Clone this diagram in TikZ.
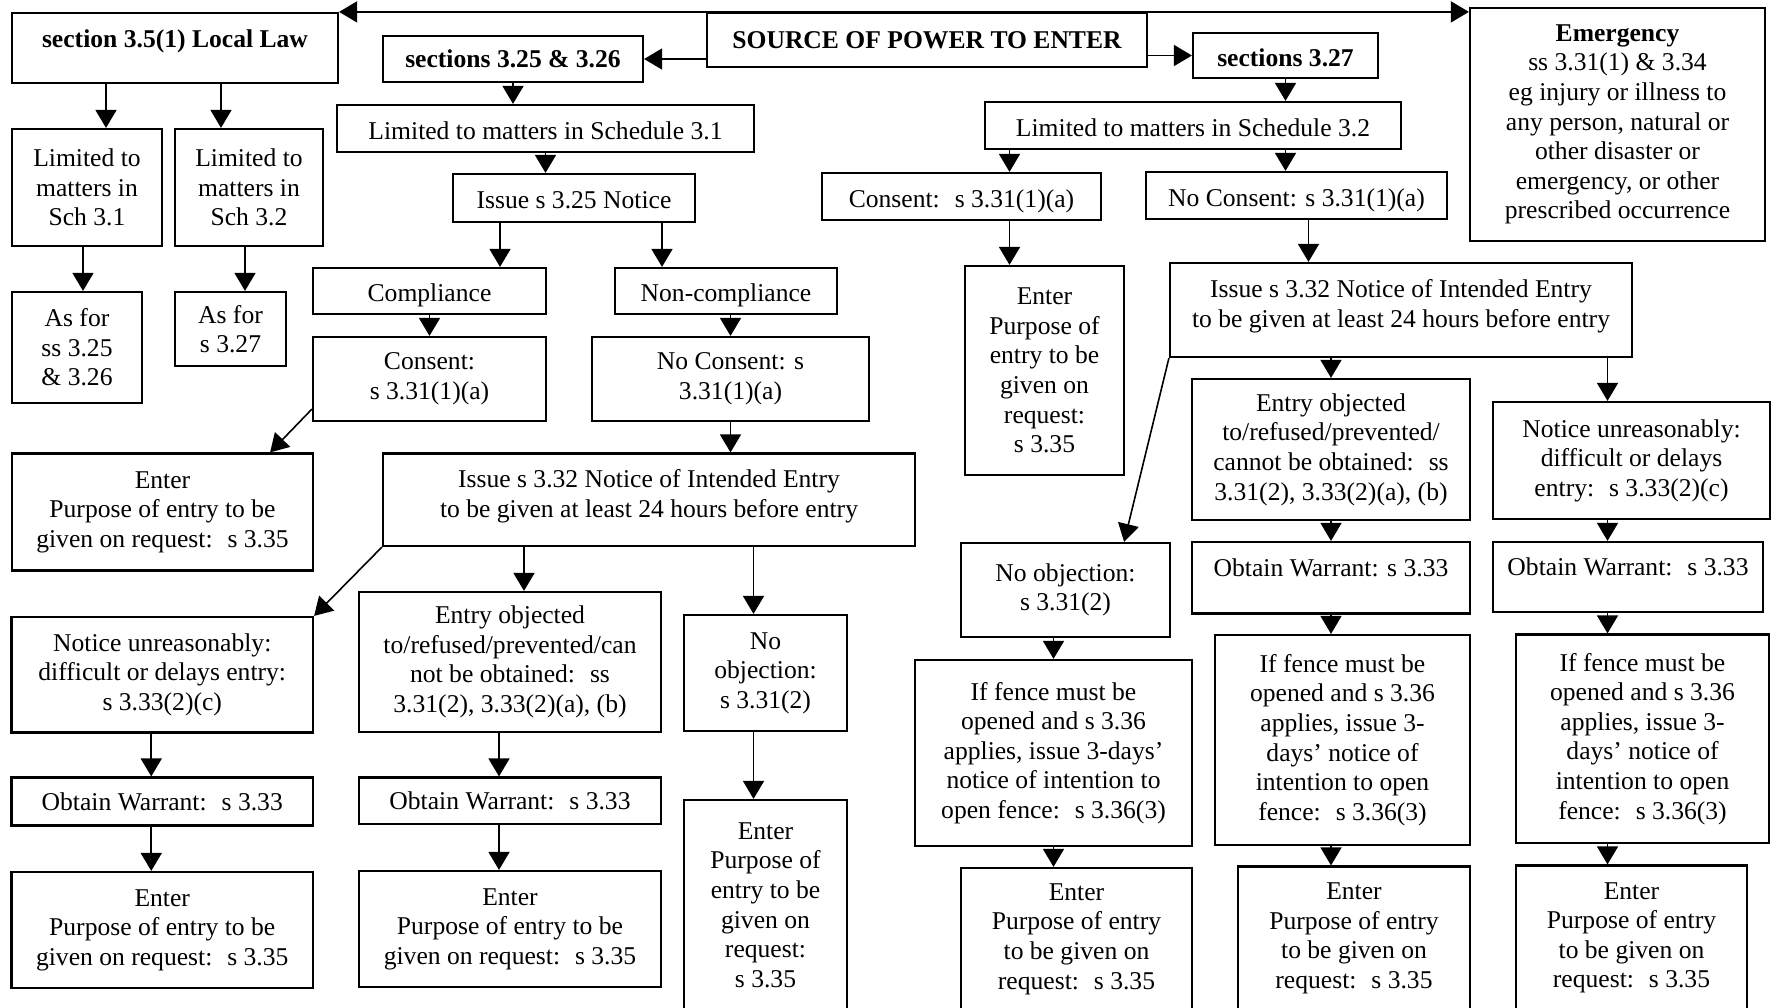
\documentclass[tikz,border=0pt]{standalone}
\usepackage{fontspec}
\setmainfont{Liberation Serif}
\usepackage{tikz}
\usetikzlibrary{arrows.meta}

\begin{document}
\begin{tikzpicture}[
        x=0.5pt, y=-0.5pt,
        box/.style={draw, line width=1.1pt, align=center, inner sep=2pt,
                    font=\fontsize{12.8}{14.8}\selectfont},
        head/.style={box, font=\fontsize{12.8}{14.8}\selectfont\bfseries},
        sz/.style 2 args={minimum width=#1, minimum height=#2},
        arrow/.style={-{Triangle[length=9pt,width=10.5pt]}, line width=0.8pt}
    ]
        \fill[white] (0,0) rectangle (1786,1007);
        \useasboundingbox (0,0) rectangle (1786,1007);

        % top row
        \node[head, sz={163pt}{35pt}, text depth=9pt] (local) at (175,48) {section 3.5(1) Local Law};
        \node[head, sz={130pt}{23pt}] (s325) at (513,59) {sections 3.25 \& 3.26};
        \node[head, sz={220pt}{27pt}] (src) at (927,40) {SOURCE OF POWER TO ENTER};
        \node[head, sz={92.5pt}{22.5pt}, text height=11pt] (s327) at (1285.5,55.5) {sections 3.27};
        \node[box, sz={147.5pt}{116.5pt}] (emerg) at (1617.5,124.5) {\textbf{Emergency}\\ss 3.31(1) \& 3.34\\eg injury or illness to\\any person, natural or\\other disaster or\\emergency, or other\\prescribed occurrence};

        % local law
        \node[box, sz={75pt}{58.5pt}] (lim31a) at (87,187.5) {Limited to\\matters in\\Sch 3.1};
        \node[box, sz={74pt}{58.5pt}] (lim32a) at (249,187.5) {Limited to\\matters in\\Sch 3.2};
        \node[box, sz={65pt}{55.5pt}] (asfor1) at (77,347.5) {As for\\ss 3.25\\\& 3.26};
        \node[box, sz={55.5pt}{37pt}] (asfor2) at (230.5,329) {As for\\s 3.27};

        % sections 3.25 & 3.26
        \node[box, sz={208.5pt}{23.5pt}, text height=11pt] (lim31) at (545.5,128.5) {Limited to matters in Schedule 3.1};
        \node[box, sz={121pt}{24pt}, text height=11pt] (notice325) at (574,198) {Issue s 3.25 Notice};
        \node[box, sz={116.5pt}{23pt}, text height=13pt] (compl) at (429.5,291) {Compliance};
        \node[box, sz={111pt}{23pt}, text height=13pt] (noncompl) at (726,291) {Non-compliance};
        \node[box, sz={116.5pt}{42pt}] (consent) at (429.5,379) {Consent:\\s 3.31(1)(a)};
        \node[box, sz={138.5pt}{42pt}] (noconsent) at (730.5,379) {No Consent: s\\3.31(1)(a)};
        \node[box, sz={150.5pt}{58.5pt}] (enterA) at (162.5,512) {Enter\\Purpose of entry to be\\given on request:~ s 3.35};
        \node[box, sz={266pt}{46.25pt}, text depth=6.3pt] (issue332A) at (649,499.75) {Issue s 3.32 Notice of Intended Entry\\to be given at least 24 hours before entry};
        \node[box, sz={150.75pt}{57.75pt}] (noticeUnA) at (162.25,674.75) {Notice unreasonably:\\difficult or delays entry:\\s 3.33(2)(c)};
        \node[box, sz={151pt}{70pt}] (objA) at (510,662) {Entry objected\\to/refused/prevented/can\\not be obtained:~ ss\\3.31(2), 3.33(2)(a), (b)};
        \node[box, sz={81.5pt}{58pt}] (noobjA) at (765.5,673) {No\\objection:\\s 3.31(2)};
        \node[box, sz={150.75pt}{24pt}] (warrA1) at (162.25,801.5) {Obtain Warrant:~ s 3.33};
        \node[box, sz={151pt}{23.25pt}] (warrA2) at (510,800.75) {Obtain Warrant:~ s 3.33};
        \node[box, sz={150.75pt}{58pt}] (enterB1) at (162.25,930) {Enter\\Purpose of entry to be\\given on request:~ s 3.35};
        \node[box, sz={151pt}{58pt}] (enterB2) at (510,929) {Enter\\Purpose of entry to be\\given on request:~ s 3.35};
        \node[box, sz={81.5pt}{105pt}] (enterB3) at (765.5,905) {Enter\\Purpose of\\entry to be\\given on\\request:\\s 3.35};

        % section 3.27
        \node[box, sz={208pt}{23.5pt}, text height=11pt] (lim32) at (1193,125.5) {Limited to matters in Schedule 3.2};
        \node[box, sz={139.5pt}{23.5pt}, text height=13.5pt] (consentR) at (961.5,196.5) {Consent:~ s 3.31(1)(a)};
        \node[box, sz={150.5pt}{23.5pt}, text height=13.5pt] (noconsentR) at (1296.5,195.5) {No Consent: s 3.31(1)(a)};
        \node[box, sz={79.5pt}{104.5pt}] (enterR1) at (1044.5,370.5) {Enter\\Purpose of\\entry to be\\given on\\request:\\s 3.35};
        \node[box, sz={231pt}{47pt}, text depth=6.3pt] (issue332B) at (1401,310) {Issue s 3.32 Notice of Intended Entry\\to be given at least 24 hours before entry};
        \node[box, sz={139pt}{70.5pt}] (objB) at (1331,449.5) {Entry objected\\to/refused/prevented/\\cannot be obtained:~ ss\\3.31(2), 3.33(2)(a), (b)};
        \node[box, sz={138.5pt}{58.5pt}] (noticeUnB) at (1631.5,460.5) {Notice unreasonably:\\difficult or delays\\entry:~ s 3.33(2)(c)};
        \node[box, sz={104.5pt}{47pt}] (noobjB) at (1065.5,590) {No objection:\\s 3.31(2)};
        \node[box, sz={139pt}{35.75pt}, text depth=10pt] (warrB2) at (1331,577.75) {Obtain Warrant: s 3.33};
        \node[box, sz={135pt}{35pt}, text depth=10pt] (warrB3) at (1628,577) {Obtain Warrant:~ s 3.33};
        \node[box, sz={138.5pt}{93pt}] (fenceB1) at (1053.5,753) {If fence must be\\opened and s 3.36\\applies, issue 3-days’\\notice of intention to\\open fence:~ s 3.36(3)};
        \node[box, sz={127.5pt}{105pt}] (fenceB2) at (1342.5,740) {If fence must be\\opened and s 3.36\\applies, issue 3-\\days’ notice of\\intention to open\\fence:~ s 3.36(3)};
        \node[box, sz={126.5pt}{104.25pt}] (fenceB3) at (1642.5,738.75) {If fence must be\\opened and s 3.36\\applies, issue 3-\\days’ notice of\\intention to open\\fence:~ s 3.36(3)};
        \node[box, sz={115.5pt}{71pt}] (enterC1) at (1076.5,939) {Enter\\Purpose of entry\\to be given on\\request:~ s 3.35};
        \node[box, sz={116pt}{71.75pt}] (enterC2) at (1354,938.25) {Enter\\Purpose of entry\\to be given on\\request:~ s 3.35};
        \node[box, sz={115.5pt}{72.25pt}] (enterC3) at (1631.5,937.75) {Enter\\Purpose of entry\\to be given on\\request:~ s 3.35};

        % arrows from the source
        \draw[arrow] (src.north) -- (src.north -| local.east);
        \draw[arrow] (src.north) -- (src.north -| emerg.west);
        \draw[arrow] (src.west |- s325.east) -- (s325.east);
        \draw[arrow] (src.east |- s327.west) -- (s327.west);

        % local law arrows
        \draw[arrow] ([xshift=9.5pt]lim31a.north |- local.south) -- ([xshift=9.5pt]lim31a.north);
        \draw[arrow] ([xshift=-14pt]lim32a.north |- local.south) -- ([xshift=-14pt]lim32a.north);
        \draw[arrow] ([xshift=-2pt]lim31a.south) -- ([xshift=-2pt]lim31a.south |- asfor1.north);
        \draw[arrow] ([xshift=-2pt]lim32a.south) -- ([xshift=-2pt]lim32a.south |- asfor2.north);

        % 3.25 & 3.26 arrows
        \draw[arrow] (s325.south) -- (s325.south |- lim31.north);
        \draw[arrow] (lim31.south) -- (lim31.south |- notice325.north);
        \draw[arrow] ([xshift=-37pt]notice325.south) -- ([xshift=-37pt]notice325.south |- compl.north);
        \draw[arrow] ([xshift=44pt]notice325.south) -- ([xshift=44pt]notice325.south |- noncompl.north);
        \draw[arrow] (compl.south) -- (consent.north);
        \draw[arrow] (noconsent.north |- noncompl.south) -- (noconsent.north);
        \draw[arrow] ([yshift=6.5pt]consent.south west) -- ([xshift=-22pt]enterA.north east);
        \draw[arrow] (noconsent.south) -- (noconsent.south |- issue332A.north);
        \draw[arrow] (issue332A.south west) -- (noticeUnA.north east);
        \draw[arrow] ([xshift=7pt]objA.north |- issue332A.south) -- ([xshift=7pt]objA.north);
        \draw[arrow] ([xshift=-6pt]noobjA.north |- issue332A.south) -- ([xshift=-6pt]noobjA.north);
        \draw[arrow] ([xshift=-5.5pt]noticeUnA.south) -- ([xshift=-5.5pt]noticeUnA.south |- warrA1.north);
        \draw[arrow] ([xshift=-5.5pt]warrA1.south) -- ([xshift=-5.5pt]warrA1.south |- enterB1.north);
        \draw[arrow] ([xshift=-5.5pt]objA.south) -- ([xshift=-5.5pt]objA.south |- warrA2.north);
        \draw[arrow] ([xshift=-5.5pt]warrA2.south) -- ([xshift=-5.5pt]warrA2.south |- enterB2.north);
        \draw[arrow] ([xshift=-6pt]noobjA.south) -- ([xshift=-6pt]noobjA.south |- enterB3.north);

        % 3.27 arrows
        \draw[arrow] (s327.south) -- (s327.south |- lim32.north);
        \draw[arrow] ([xshift=24pt]consentR.north |- lim32.south) -- ([xshift=24pt]consentR.north);
        \draw[arrow] (s327.south |- lim32.south) -- (s327.south |- noconsentR.north);
        \draw[arrow] ([xshift=24pt]consentR.south) -- ([xshift=24pt]consentR.south |- enterR1.north);
        \draw[arrow] ([xshift=6pt]noconsentR.south) -- ([xshift=6pt]noconsentR.south |- issue332B.north);
        \draw[arrow] (issue332B.south west) -- ([xshift=-23.5pt]noobjB.north east);
        \draw[arrow] (objB.north |- issue332B.south) -- (objB.north);
        \draw[arrow] ([xshift=-12pt]noticeUnB.north |- issue332B.south) -- ([xshift=-12pt]noticeUnB.north);
        \draw[arrow] (fenceB1.north |- noobjB.south) -- (fenceB1.north);
        \draw[arrow] (fenceB1.south) -- (fenceB1.south |- enterC1.north);
        \draw[arrow] (objB.south) -- (objB.south |- warrB2.north);
        \draw[arrow] (warrB2.south) -- (warrB2.south |- fenceB2.north);
        \draw[arrow] (warrB2.south |- fenceB2.south) -- (warrB2.south |- enterC2.north);
        \draw[arrow] ([xshift=-12pt]noticeUnB.south) -- ([xshift=-12pt]noticeUnB.south |- warrB3.north);
        \draw[arrow] ([xshift=-12pt]noticeUnB.south |- warrB3.south) -- ([xshift=-12pt]noticeUnB.south |- fenceB3.north);
        \draw[arrow] ([xshift=-12pt]noticeUnB.south |- fenceB3.south) -- ([xshift=-12pt]noticeUnB.south |- enterC3.north);
    \end{tikzpicture}
\end{document}
